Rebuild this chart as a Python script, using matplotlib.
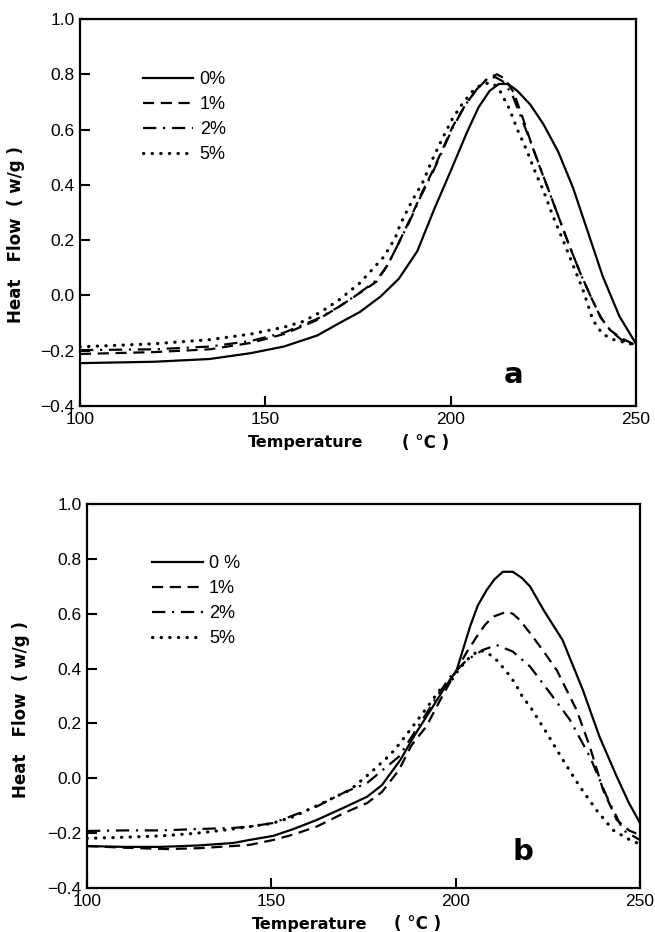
import numpy as np
import matplotlib
matplotlib.use('Agg')
import matplotlib.pyplot as plt
from matplotlib import font_manager

# DSC curves (temperature in C, heat flow in w/g)
# panel a
a_T0 = [100, 120, 135, 146, 155, 164, 170, 175.5, 181, 186, 191, 195.5, 200, 204.3, 207.5, 210.5,
        213, 215.5, 218, 221.5, 225, 229, 233, 237, 241, 245.5, 250]
a_y0 = [-0.245, -0.24, -0.23, -0.209, -0.185, -0.145, -0.1, -0.06, -0.005, 0.06, 0.16, 0.31, 0.45, 0.587,
        0.68, 0.74, 0.765, 0.765, 0.74, 0.69, 0.62, 0.52, 0.39, 0.23, 0.07, -0.075, -0.175]

a_T1 = [100, 120, 135, 146, 155, 164, 170, 175.5, 180, 183, 186, 189, 192, 195.5, 200.5, 204, 207, 210,
        212.5, 214.5, 217, 219.5, 222, 224, 227, 229.5, 232, 235, 238, 240.5, 243, 246, 250]
a_y1 = [-0.212, -0.205, -0.195, -0.172, -0.14, -0.089, -0.04, 0.009, 0.05, 0.11, 0.19, 0.275, 0.365, 0.46,
        0.61, 0.69, 0.745, 0.785, 0.8, 0.785, 0.735, 0.64, 0.54, 0.466, 0.36, 0.27, 0.18, 0.08, -0.01,
        -0.08, -0.125, -0.155, -0.18]

a_T2 = [100, 120, 135, 146, 155, 164, 170, 175.5, 180, 183, 186, 189, 192, 195.5, 200.5, 204, 207, 209.5,
        212, 214, 216.5, 219, 222, 224.5, 227, 229.5, 232, 235, 238, 240.5, 243, 246, 250]
a_y2 = [-0.198, -0.195, -0.185, -0.165, -0.135, -0.085, -0.04, 0.01, 0.055, 0.11, 0.19, 0.27, 0.36, 0.455,
        0.605, 0.69, 0.745, 0.78, 0.79, 0.775, 0.73, 0.645, 0.54, 0.45, 0.36, 0.27, 0.18, 0.08, -0.01,
        -0.08, -0.125, -0.16, -0.18]

a_T5 = [100, 120, 135, 146, 155, 160, 165, 170, 175.5, 182, 185, 186.5, 189.5, 192.5, 195, 198, 200.5,
        203.3, 206, 208, 210.5, 212, 213.5, 216, 218, 220.5, 223, 225, 227.5, 230.3, 233, 235.7, 238.4,
        241, 244, 247, 250]
a_y5 = [-0.186, -0.175, -0.16, -0.14, -0.115, -0.095, -0.06, -0.015, 0.045, 0.14, 0.207, 0.26, 0.34, 0.41,
        0.49, 0.574, 0.64, 0.696, 0.74, 0.76, 0.77, 0.76, 0.735, 0.67, 0.6, 0.526, 0.44, 0.38, 0.29, 0.2,
        0.11, 0.02, -0.09, -0.14, -0.16, -0.17, -0.18]

# panel b
b_T0 = [100, 110, 120, 130, 139.6, 144, 150.5, 156, 162.3, 170, 176, 180, 185, 189, 193.8, 197, 200.3,
        202, 203.9, 206, 208.4, 210.5, 212.8, 215.5, 218, 220.2, 224, 229, 234.5, 239, 243.7, 247, 250]
b_y0 = [-0.247, -0.25, -0.25, -0.245, -0.236, -0.225, -0.21, -0.185, -0.152, -0.105, -0.067, -0.025, 0.067,
        0.16, 0.261, 0.33, 0.395, 0.47, 0.553, 0.63, 0.686, 0.725, 0.753, 0.753, 0.73, 0.699, 0.61, 0.504,
        0.322, 0.152, 0.006, -0.09, -0.163]

b_T1 = [100, 110, 121.7, 130, 139.6, 144, 150.5, 156, 162.3, 170, 176, 180, 184.6, 188, 192, 196, 200.3,
        203, 205.7, 208, 210.1, 213.8, 215.5, 217.4, 220.2, 224, 227.4, 232.8, 236.4, 240, 243.7, 247, 250]
b_y1 = [-0.247, -0.253, -0.258, -0.255, -0.247, -0.243, -0.225, -0.205, -0.176, -0.125, -0.09, -0.05, 0.03,
        0.12, 0.188, 0.29, 0.395, 0.46, 0.516, 0.56, 0.589, 0.607, 0.6, 0.577, 0.529, 0.46, 0.395, 0.249,
        0.115, -0.043, -0.152, -0.19, -0.207]

b_T2 = [100, 110, 120, 130, 139.6, 144.2, 150.5, 162.3, 170, 175.9, 184.6, 188, 192, 195, 198.5, 203,
        207.4, 211.1, 215.5, 220.2, 225.6, 231, 236.4, 241, 245.4, 250]
b_y2 = [-0.192, -0.19, -0.19, -0.185, -0.181, -0.176, -0.163, -0.103, -0.05, -0.018, 0.079, 0.15, 0.235,
        0.3, 0.37, 0.431, 0.468, 0.486, 0.462, 0.407, 0.311, 0.213, 0.079, -0.067, -0.189, -0.225]

b_T5 = [100, 110, 120, 130, 139.6, 150, 156, 162.3, 167, 171.3, 176.8, 182.2, 184.9, 191.1, 195.7, 198.5,
        201, 203.9, 206.6, 208.8, 211.1, 213.8, 216.1, 218, 220.5, 224.7, 229.1, 233.7, 238.2, 242.7,
        247.3, 250]
b_y5 = [-0.219, -0.215, -0.21, -0.2, -0.185, -0.165, -0.14, -0.1, -0.07, -0.043, 0.019, 0.085, 0.128, 0.238,
        0.322, 0.35, 0.4, 0.443, 0.468, 0.456, 0.431, 0.389, 0.347, 0.3, 0.255, 0.165, 0.067, -0.031,
        -0.116, -0.189, -0.225, -0.24]

labels_a = ['0%', '1%', '2%', '5%']
labels_b = ['0 %', '1%', '2%', '5%']
x_ticks = [100, 150, 200, 250]
y_ticks = [-0.4, -0.2, 0.0, 0.2, 0.4, 0.6, 0.8, 1.0]

estilos = ['-', (0, (5, 3)), (0, (6, 3, 1, 3)), (0, (0.1, 2.6))]
largura = [1.6, 1.6, 1.6, 2.3]

nomes = [f.name for f in font_manager.fontManager.ttflist]
fonte_ticks = 'Liberation Sans Narrow' if 'Liberation Sans Narrow' in nomes else 'Liberation Sans'

fig = plt.figure(figsize=(6.55, 9.32), dpi=100)
ax_a = fig.add_axes([0.1221, 0.5644, 0.8489, 0.4152])
ax_b = fig.add_axes([0.1328, 0.0472, 0.8443, 0.4120])

paineis = [
    (ax_a, [(a_T0, a_y0), (a_T1, a_y1), (a_T2, a_y2), (a_T5, a_y5)], labels_a, 'a',
     (0.113, 0.866), (-0.099, 0.442), (0.779, 0.08), (0.406, 0.621)),
    (ax_b, [(b_T0, b_y0), (b_T1, b_y1), (b_T2, b_y2), (b_T5, b_y5)], labels_b, 'b',
     (0.1175, 0.867), (-0.103, 0.466), (0.788, 0.094), (0.402, 0.597)),
]

for ax, curvas, rotulos, letra, pos_leg, pos_ylab, pos_letra, pos_xlab in paineis:
    for (T, y), ls, lw, lab in zip(curvas, estilos, largura, rotulos):
        ax.plot(T, y, color='black', linestyle=ls, linewidth=lw, label=lab,
                dash_capstyle='round' if lw > 2 else 'butt')
    ax.set_xlim(100, 250)
    ax.set_ylim(-0.4, 1.0)
    ax.set_xticks(x_ticks)
    ax.set_yticks(y_ticks)
    ax.set_xticklabels([str(v) for v in x_ticks], family=fonte_ticks, fontsize=12.5)
    ax.set_yticklabels(['\u22120.4', '\u22120.2', '0.0', '0.2', '0.4', '0.6', '0.8', '1.0'],
                       family=fonte_ticks, fontsize=12.5)
    ax.tick_params(direction='in', length=7, width=1.5, pad=4, top=False, right=False)
    for s in ax.spines.values():
        s.set_linewidth(1.6)
    ax.set_ylabel('Heat   Flow  ( w/g )', fontsize=12, fontweight='bold')
    ax.yaxis.set_label_coords(*pos_ylab)
    ax.text(pos_xlab[0], -0.095, 'Temperature', transform=ax.transAxes, ha='center', va='center',
            fontsize=11.5, fontweight='bold')
    ax.text(pos_xlab[1], -0.095, '( \u00b0C )', transform=ax.transAxes, ha='center', va='center',
            fontsize=12, fontweight='bold')
    ax.text(pos_letra[0], pos_letra[1], letra, transform=ax.transAxes, ha='center', va='center',
            fontsize=21, fontweight='bold')
    ax.legend(loc='upper left', bbox_to_anchor=pos_leg, frameon=False, borderpad=0, borderaxespad=0,
              handlelength=2.8, handletextpad=0.35, labelspacing=0.45,
              prop={'family': fonte_ticks, 'size': 13})

fig.savefig('out.png', dpi=100)
